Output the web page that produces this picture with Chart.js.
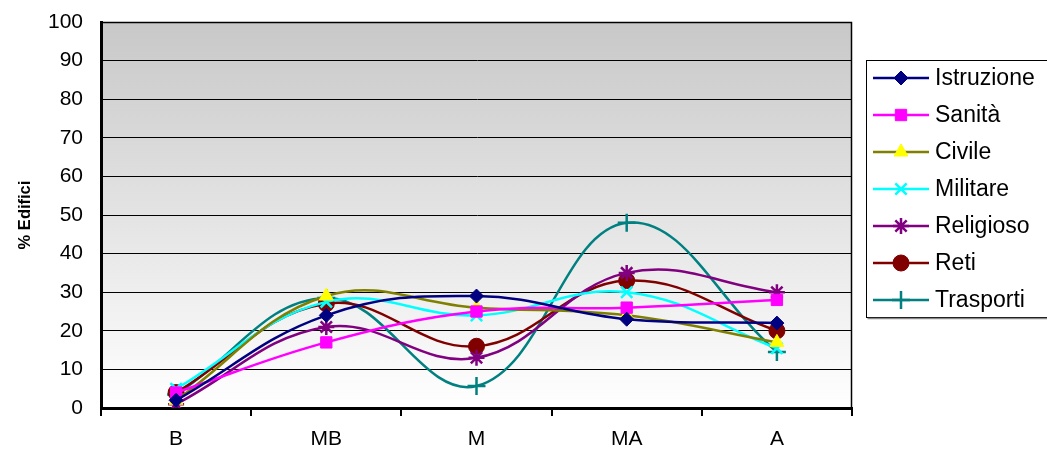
<!DOCTYPE html>
<html>
<head>
<meta charset="utf-8">
<script src="https://cdn.jsdelivr.net/npm/chart.js@4"></script>
<style>
html,body{margin:0;padding:0;background:#fff;}
#wrap{width:1047px;height:458px;position:relative;}
</style>
</head>
<body>
<div id="wrap"><canvas id="c" width="1047" height="458"></canvas></div>
<script>
const categories = ['B', 'MB', 'M', 'MA', 'A'];
const yTicks = [0, 10, 20, 30, 40, 50, 60, 70, 80, 90, 100];
const seriesNames = ['Istruzione', 'Sanità', 'Civile', 'Militare', 'Religioso', 'Reti', 'Trasporti'];
const istruzione = [2, 24, 29, 23, 22];
const sanita = [4, 17, 25, 26, 28];
const civile = [2, 29, 26, 24, 17];
const militare = [5, 27.5, 24, 30, 15.5];
const religioso = [1, 21, 13, 35, 30];
const reti = [4, 27, 16, 33, 20];
const trasporti = [3.5, 28.5, 5.7, 48, 14.5];

const FONT = '"Liberation Sans", Arial, sans-serif';
const styles = [
  {line:'#000080', fill:'#000080', pt:'rectRot', r:7},
  {line:'#ff00ff', fill:'#ff00ff', pt:'rect', r:8},
  {line:'#808000', fill:'#ffff00', ptBorder:'#ffff00', pt:'triangle', r:8},
  {line:'#00ffff', fill:'#00ffff', pt:'crossRot', r:8},
  {line:'#800080', fill:'#800080', pt:'star', r:8},
  {line:'#800000', fill:'#800000', pt:'circle', r:8},
  {line:'#008080', fill:'#008080', pt:'cross', r:9}
];
const values = [istruzione, sanita, civile, militare, religioso, reti, trasporti];

const datasets = seriesNames.map((n, i) => ({
  label: n,
  data: values[i],
  borderColor: styles[i].line,
  backgroundColor: styles[i].fill,
  borderWidth: 2.5,
  tension: 0.4,
  pointStyle: styles[i].pt,
  pointRadius: styles[i].r,
  pointBackgroundColor: styles[i].fill,
  pointBorderColor: styles[i].ptBorder || styles[i].fill,
  pointBorderWidth: (styles[i].pt === 'crossRot' || styles[i].pt === 'cross' || styles[i].pt === 'star') ? 2.5 : 1,
  fill: false
}));

const bgPlugin = {
  id: 'bg',
  beforeDraw(chart) {
    const {ctx, chartArea: a} = chart;
    const g = ctx.createLinearGradient(0, a.top, 0, a.bottom);
    g.addColorStop(0, '#c8c8c8');
    g.addColorStop(1, '#ffffff');
    ctx.save();
    ctx.fillStyle = g;
    ctx.fillRect(a.left, a.top, a.right - a.left, a.bottom - a.top);
    ctx.restore();
  },
  afterDatasetsDraw(chart) {
    const {ctx, chartArea: a} = chart;
    ctx.save();
    ctx.strokeStyle = '#000';
    ctx.lineWidth = 1.5;
    ctx.beginPath();
    ctx.moveTo(a.left, a.top + 0.5);
    ctx.lineTo(a.right - 0.5, a.top + 0.5);
    ctx.lineTo(a.right - 0.5, a.bottom);
    ctx.stroke();
    ctx.restore();
  }
};

const legendPlugin = {
  id: 'customLegend',
  afterDraw(chart) {
    const ctx = chart.ctx;
    const bx = 866.5, by = 60.5, bw = 185, bh = 257;
    ctx.save();
    ctx.fillStyle = '#fff';
    ctx.fillRect(bx, by, bw, bh);
    ctx.strokeStyle = '#000';
    ctx.lineWidth = 1;
    ctx.strokeRect(bx, by, bw, bh);
    ctx.strokeStyle = '#888';
    ctx.lineWidth = 1.5;
    ctx.beginPath();
    ctx.moveTo(bx + 1, by + bh + 1);
    ctx.lineTo(bx + bw, by + bh + 1);
    ctx.stroke();
    chart.data.datasets.forEach((ds, i) => {
      const y = 78 + i * 37;
      ctx.strokeStyle = ds.borderColor;
      ctx.lineWidth = 2.5;
      ctx.beginPath();
      ctx.moveTo(873, y);
      ctx.lineTo(929, y);
      ctx.stroke();
      ctx.fillStyle = ds.pointBackgroundColor;
      ctx.strokeStyle = ds.pointBorderColor;
      ctx.lineWidth = ds.pointBorderWidth;
      Chart.helpers.drawPoint(ctx, {
        pointStyle: ds.pointStyle,
        radius: ds.pointRadius,
        borderWidth: ds.pointBorderWidth,
        rotation: 0
      }, 901, y);
      ctx.fillStyle = '#000';
      ctx.font = '23px ' + FONT;
      ctx.textBaseline = 'middle';
      ctx.textAlign = 'left';
      ctx.fillText(ds.label, 935, y + 1);
    });
    ctx.restore();
  }
};

new Chart(document.getElementById('c'), {
  type: 'line',
  data: { labels: categories, datasets },
  options: {
    responsive: false,
    animation: false,
    devicePixelRatio: 1,
    layout: { padding: { left: 0, top: 22, right: 195, bottom: 0 } },
    plugins: {
      legend: { display: false },
      tooltip: { enabled: false }
    },
    scales: {
      x: {
        offset: true,
        grid: { offset: true, drawOnChartArea: false, drawTicks: true, tickLength: 8, color: '#000', lineWidth: 2 },
        border: { color: '#000', width: 3 },
        ticks: { color: '#000', font: { family: FONT, size: 21 }, padding: 11 },
        afterFit(s) { s.height = 50; s.paddingLeft = 0; s.paddingRight = 0; }
      },
      y: {
        min: 0, max: 100,
        afterBuildTicks(s) { s.ticks = yTicks.map(v => ({ value: v })); },
        grid: { color: '#000', lineWidth: 1, drawTicks: false },
        border: { color: '#000', width: 3 },
        ticks: { color: '#000', font: { family: FONT, size: 21 }, padding: 18 },
        title: { display: true, text: '% Edifici', color: '#000', font: { family: FONT, size: 16.5, weight: 'bold' }, padding: { top: 16, bottom: 0 } },
        afterFit(s) { s.width = 101; s.paddingTop = 0; s.paddingBottom = 0; }
      }
    }
  },
  plugins: [bgPlugin, legendPlugin]
});
</script>
</body>
</html>
